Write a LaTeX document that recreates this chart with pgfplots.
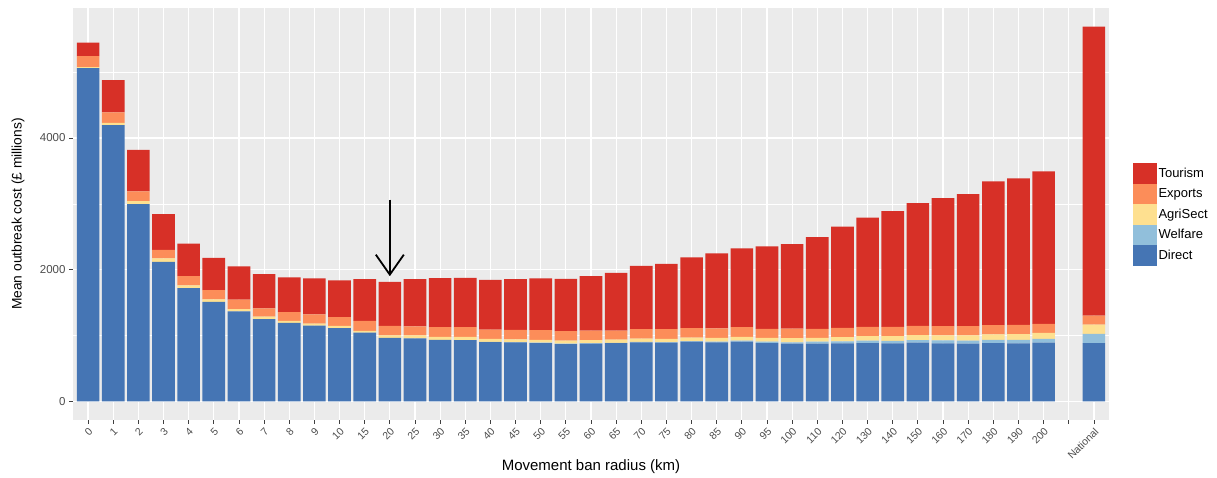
\documentclass[border=0pt]{standalone}
\usepackage{pgfplots}
\pgfplotsset{compat=1.18}
\usepackage{pgfplotstable}
\usepackage{fontspec}
\setmainfont{Liberation Sans}
\usetikzlibrary{arrows.meta,calc}
\definecolor{cTour}{HTML}{D73027}
\definecolor{cExp}{HTML}{FC8D59}
\definecolor{cAgri}{HTML}{FEE090}
\definecolor{cWel}{HTML}{91BFDB}
\definecolor{cDir}{HTML}{4575B4}
\definecolor{panel}{HTML}{EBEBEB}
\definecolor{ticktext}{HTML}{4D4D4D}

\pgfplotstableread{
idx D W A E T
0 5060 0 15 170 205
1 4195 0 35 160 490
2 2995 0 45 150 630
3 2120 0 50 130 545
4 1720 0 40 140 495
5 1510 0 40 140 490
6 1365 0 35 145 505
7 1250 0 35 125 522
8 1190 0 30 135 527
9 1150 0 30 140 546
10 1110 0 35 135 556
11 1045 0 25 150 636
12 965 0 35 145 670
13 955 0 45 140 715
14 932 0 45 148 746
15 930 0 48 148 750
16 900 3 45 142 756
17 895 5 40 145 771
18 885 5 42 148 786
19 870 5 48 142 796
20 878 5 45 147 826
21 882 7 48 138 877
22 895 8 50 142 963
23 890 8 50 147 993
24 905 10 52 143 1075
25 895 12 55 145 1139
26 905 15 58 147 1197
27 885 20 60 135 1253
28 875 22 63 143 1283
29 877 30 58 137 1393
30 880 30 65 140 1537
31 885 35 70 140 1659
32 880 38 72 140 1760
33 890 40 75 140 1867
34 880 45 78 140 1945
35 875 48 80 140 2006
36 885 50 82 142 2182
37 880 55 85 140 2226
38 890 58 90 138 2316
40 885 140 140 136 4390
}\costdata

\begin{document}
\begin{tikzpicture}[x=1pt,y=1pt]
\begin{axis}[
  scale only axis, width=1036pt, height=412pt,
  xmin=-0.6, xmax=40.6, ymin=-284, ymax=5975,
  ybar stacked, bar width=0.9, bar shift=0pt,
  axis background/.style={fill=panel},
  axis line style={draw=none},
  xtick={0,...,40},
  xticklabels={0,1,2,3,4,5,6,7,8,9,10,15,20,25,30,35,40,45,50,55,60,65,70,75,80,85,90,95,100,110,120,130,140,150,160,170,180,190,200,{},National},
  ytick={0,2000,4000}, minor ytick={1000,3000,5000},
  xtick pos=bottom, ytick pos=left,
  tick align=outside, major tick length=4pt, minor tick length=0pt,
  tick style={color=black!75, line width=0.8pt},
  xmajorgrids, ymajorgrids, yminorgrids,
  major grid style={white, line width=1.2pt},
  minor grid style={white, line width=0.6pt},
  /pgf/number format/assume math mode=true,
  /pgf/number format/1000 sep={},
  scaled y ticks=false,
  yticklabel style={font=\fontsize{11.5}{12}\selectfont, text=ticktext},
  xticklabel style={font=\fontsize{10.5}{11}\selectfont, text=ticktext, rotate=45, anchor=north east, inner sep=2pt},
  xlabel={Movement ban radius (km)},
  ylabel={Mean outbreak cost (£ millions)},
  xlabel style={font=\fontsize{15}{16}\selectfont, at={(axis description cs:0.5,-0.114)}, anchor=center},
  ylabel style={font=\fontsize{13.8}{15}\selectfont, at={(axis description cs:-0.053,0.5)}, anchor=center},
  legend style={at={(axis description cs:1.023,0.624)}, anchor=north west, draw=none, fill=none,
    font=\fontsize{13}{14}\selectfont, row sep=0pt, inner sep=0pt,
    nodes={inner sep=1.5pt, anchor=west}},
  legend cell align=left,
  reverse legend,
  legend image code/.code={\fill[#1] (0pt,-10.25pt) rectangle (24pt,10.25pt);},
]
\coordinate (p0) at (rel axis cs:0,0);
\addplot[fill=cDir, draw=none] table[x=idx, y=D] {\costdata};
\addplot[fill=cWel, draw=none] table[x=idx, y=W] {\costdata};
\addplot[fill=cAgri, draw=none] table[x=idx, y=A] {\costdata};
\addplot[fill=cExp, draw=none] table[x=idx, y=E] {\costdata};
\addplot[fill=cTour, draw=none] table[x=idx, y=T] {\costdata};
\legend{Direct,Welfare,AgriSect,Exports,Tourism}
\draw[line width=1.8pt, -{Straight Barb[length=20pt, width=28pt, line width=1.8pt]}] (axis cs:12,3062) -- (axis cs:12,1900);
\end{axis}
\useasboundingbox ($(p0)+(-73,-58)$) rectangle ($(p0)+(1144,420)$);
\end{tikzpicture}
\end{document}
